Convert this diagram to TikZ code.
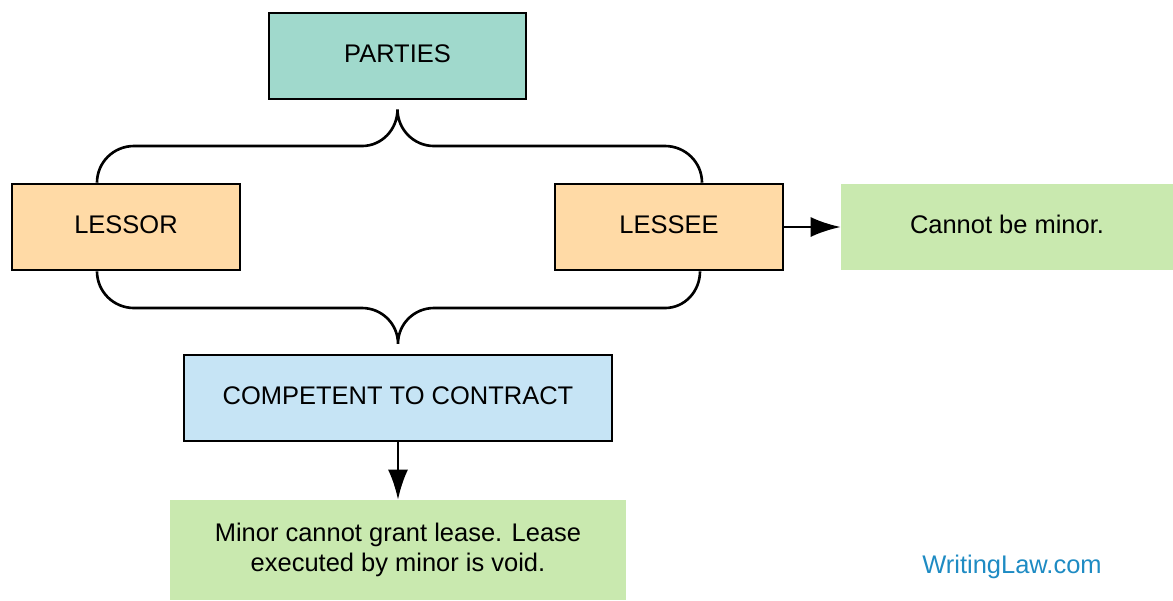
\documentclass[tikz,border=0pt]{standalone}
\usepackage{fontspec}
\setmainfont{Liberation Sans}
\usetikzlibrary{arrows.meta}
\usetikzlibrary{calc}
\usetikzlibrary{positioning}
\definecolor{mteal}{RGB}{160,217,204}
\definecolor{morange}{RGB}{255,218,166}
\definecolor{mgreen}{RGB}{201,233,175}
\definecolor{mblue}{RGB}{198,228,245}
\definecolor{mlink}{RGB}{30,139,195}
\tikzset{box/.style = {draw, line width=1.5pt, minimum height=1.72cm,
                       text height=10.5pt, text depth=3.4pt,
                       font=\fontsize{14.5}{17}\selectfont},
         note/.style = {minimum height=1.72cm, align=center,
                        font=\fontsize{14.5}{17}\selectfont},
         brace/.style = {line width=1.5pt},
         ->/.style = {line width=1.5pt, -{Latex[length=0.6cm, width=0.4cm]}}}

\begin{document}
\begin{tikzpicture}[x=0.02cm, y=-0.02cm]
      \useasboundingbox (0, 0) rectangle (1173, 600);
      \node [box, fill=mteal, minimum width=5.14cm] (parties) at (397.5, 56) {PARTIES};
      \node [box, fill=morange, minimum width=4.56cm] (lessor) at (126, 227) {LESSOR};
      \node [box, fill=morange, minimum width=4.56cm] (lessee) at (669, 227) {LESSEE};
      \node [note, fill=mgreen, minimum width=6.64cm, text height=10.5pt, text depth=3.4pt]
            (notminor) at (1007, 227) {Cannot be minor.};
      \node [box, fill=mblue, minimum width=8.56cm] (competent) at (398, 398) {COMPETENT TO CONTRACT};
      \node [note, fill=mgreen, minimum width=9.12cm, minimum height=2cm] (void) at (398, 550)
            {Minor cannot grant lease. Lease\\executed by minor is void.};
      \node [font=\fontsize{14.5}{17}\selectfont, text=mlink] (site) at (1012, 567) {WritingLaw.com};
      % braces
      \coordinate (ttip) at ($(parties.south)+(0, 9)$);
      \coordinate (btip) at ($(competent.north)+(0, -10)$);
      \draw [brace] ($(lessor.north)+(-29, 0)$) to [out=90, in=180] (134, 146)
            -- (362, 146) to [out=0, in=-90] (ttip)
            to [out=-90, in=180] (434, 146) -- (665, 146)
            to [out=0, in=90] ($(lessee.north)+(33, 0)$);
      \draw [brace] ($(lessor.south)+(-29, 0)$) to [out=-90, in=180] (134, 308)
            -- (362, 308) to [out=0, in=90] (btip)
            to [out=90, in=180] (434, 308) -- (665, 308)
            to [out=0, in=-90] ($(lessee.south)+(31, 0)$);
      % arrows
      \draw [->] (lessee.east) -- (notminor.west);
      \draw [->] (competent.south) -- (void.north);
    \end{tikzpicture}
\end{document}
